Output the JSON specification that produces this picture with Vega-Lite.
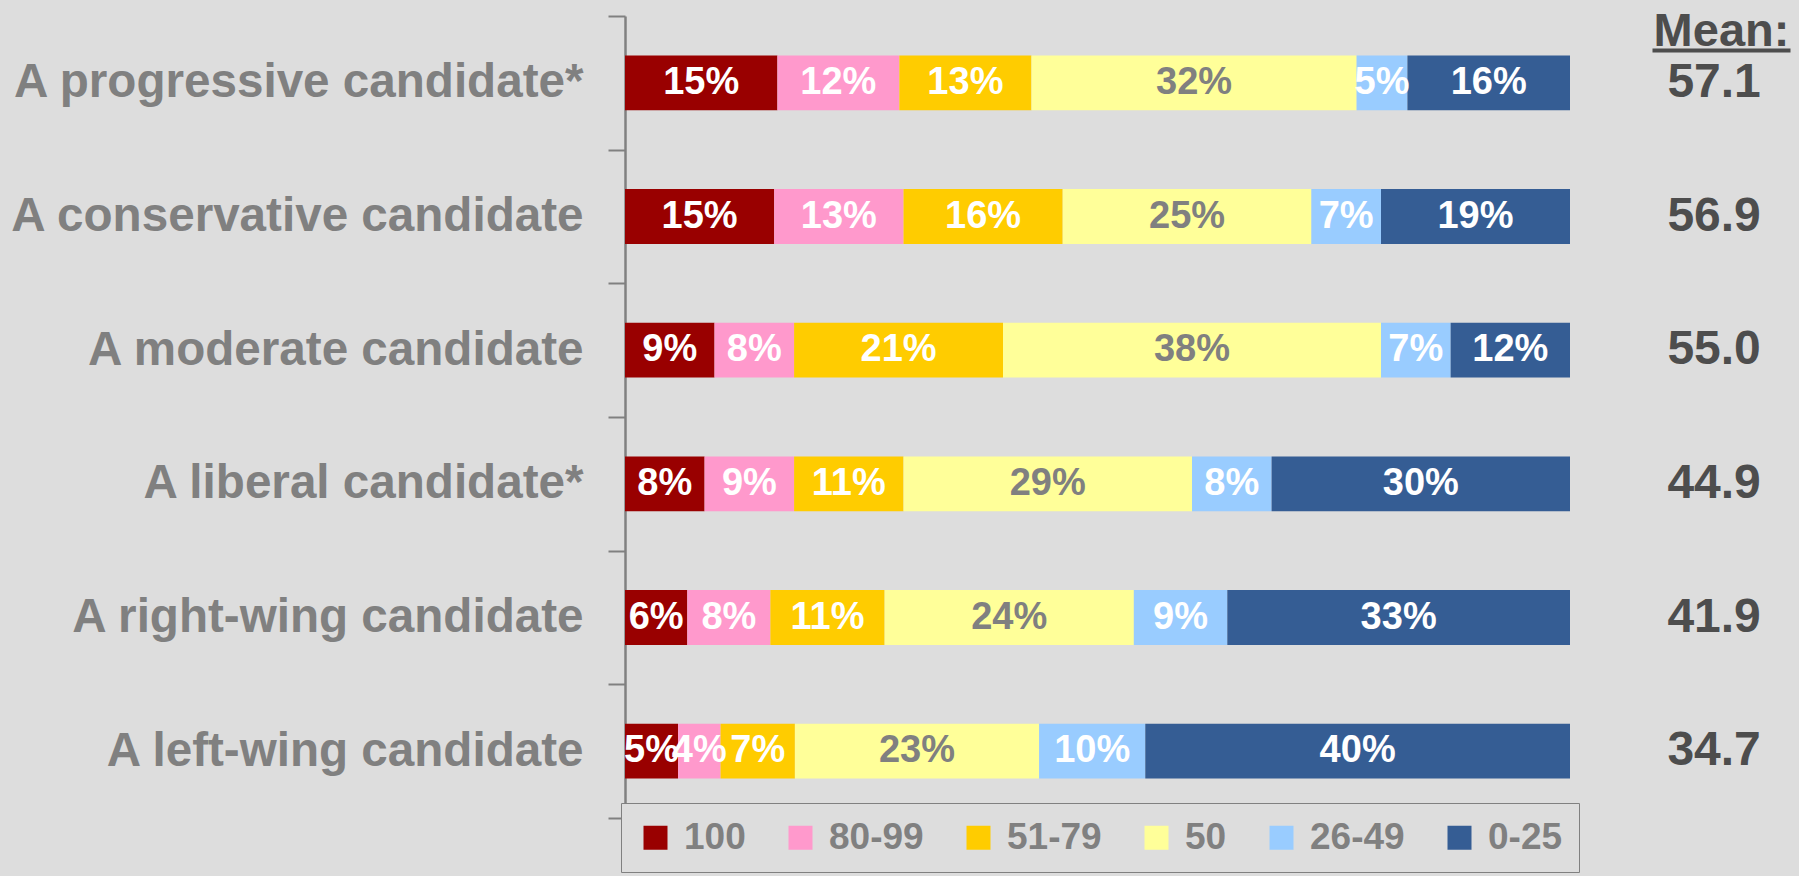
{
  "$schema": "https://vega.github.io/schema/vega-lite/v6.json",
  "background": "#DDDDDD",
  "autosize": {"type": "none"},
  "padding": {"left": 625, "top": 16, "right": 1174, "bottom": 860},
  "config": {"view": {"stroke": null}, "font": "Liberation Sans"},
  "datasets": {
    "ratings": [
      {"candidate": "A progressive candidate*", "range": "100", "k": 1, "share": 0.15},
      {"candidate": "A progressive candidate*", "range": "80-99", "k": 2, "share": 0.12},
      {"candidate": "A progressive candidate*", "range": "51-79", "k": 3, "share": 0.13},
      {"candidate": "A progressive candidate*", "range": "50", "k": 4, "share": 0.32},
      {"candidate": "A progressive candidate*", "range": "26-49", "k": 5, "share": 0.05},
      {"candidate": "A progressive candidate*", "range": "0-25", "k": 6, "share": 0.16},
      {"candidate": "A conservative candidate", "range": "100", "k": 1, "share": 0.15},
      {"candidate": "A conservative candidate", "range": "80-99", "k": 2, "share": 0.13},
      {"candidate": "A conservative candidate", "range": "51-79", "k": 3, "share": 0.16},
      {"candidate": "A conservative candidate", "range": "50", "k": 4, "share": 0.25},
      {"candidate": "A conservative candidate", "range": "26-49", "k": 5, "share": 0.07},
      {"candidate": "A conservative candidate", "range": "0-25", "k": 6, "share": 0.19},
      {"candidate": "A moderate candidate", "range": "100", "k": 1, "share": 0.09},
      {"candidate": "A moderate candidate", "range": "80-99", "k": 2, "share": 0.08},
      {"candidate": "A moderate candidate", "range": "51-79", "k": 3, "share": 0.21},
      {"candidate": "A moderate candidate", "range": "50", "k": 4, "share": 0.38},
      {"candidate": "A moderate candidate", "range": "26-49", "k": 5, "share": 0.07},
      {"candidate": "A moderate candidate", "range": "0-25", "k": 6, "share": 0.12},
      {"candidate": "A liberal candidate*", "range": "100", "k": 1, "share": 0.08},
      {"candidate": "A liberal candidate*", "range": "80-99", "k": 2, "share": 0.09},
      {"candidate": "A liberal candidate*", "range": "51-79", "k": 3, "share": 0.11},
      {"candidate": "A liberal candidate*", "range": "50", "k": 4, "share": 0.29},
      {"candidate": "A liberal candidate*", "range": "26-49", "k": 5, "share": 0.08},
      {"candidate": "A liberal candidate*", "range": "0-25", "k": 6, "share": 0.30},
      {"candidate": "A right-wing candidate", "range": "100", "k": 1, "share": 0.06},
      {"candidate": "A right-wing candidate", "range": "80-99", "k": 2, "share": 0.08},
      {"candidate": "A right-wing candidate", "range": "51-79", "k": 3, "share": 0.11},
      {"candidate": "A right-wing candidate", "range": "50", "k": 4, "share": 0.24},
      {"candidate": "A right-wing candidate", "range": "26-49", "k": 5, "share": 0.09},
      {"candidate": "A right-wing candidate", "range": "0-25", "k": 6, "share": 0.33},
      {"candidate": "A left-wing candidate", "range": "100", "k": 1, "share": 0.05},
      {"candidate": "A left-wing candidate", "range": "80-99", "k": 2, "share": 0.04},
      {"candidate": "A left-wing candidate", "range": "51-79", "k": 3, "share": 0.07},
      {"candidate": "A left-wing candidate", "range": "50", "k": 4, "share": 0.23},
      {"candidate": "A left-wing candidate", "range": "26-49", "k": 5, "share": 0.10},
      {"candidate": "A left-wing candidate", "range": "0-25", "k": 6, "share": 0.40}
    ],
    "means": [
      {"candidate": "A progressive candidate*", "mean": 57.1},
      {"candidate": "A conservative candidate", "mean": 56.9},
      {"candidate": "A moderate candidate", "mean": 55.0},
      {"candidate": "A liberal candidate*", "mean": 44.9},
      {"candidate": "A right-wing candidate", "mean": 41.9},
      {"candidate": "A left-wing candidate", "mean": 34.7}
    ]
  },
  "bounds": "flush",
  "spacing": 82,
  "hconcat": [
    {
      "width": 945,
      "height": 802,
      "data": {"name": "ratings"},
      "encoding": {
        "y": {
          "field": "candidate",
          "type": "nominal",
          "sort": ["A progressive candidate*", "A conservative candidate", "A moderate candidate", "A liberal candidate*", "A right-wing candidate", "A left-wing candidate"],
          "scale": {"paddingInner": 0, "paddingOuter": 0},
          "axis": {
            "title": null,
            "tickBand": "extent",
            "domainColor": "#808080",
            "domainWidth": 2.5,
            "tickColor": "#808080",
            "tickWidth": 2,
            "tickSize": 17,
            "labelPadding": 25,
            "labelFontSize": 47.6,
            "labelFontWeight": "bold",
            "labelColor": "#808080",
            "labelFont": "Liberation Sans",
            "labelLimit": 800,
            "grid": false
          }
        },
        "x": {"field": "share", "type": "quantitative", "stack": "normalize", "scale": {"domain": [0, 1]}, "axis": null},
        "order": {"field": "k", "type": "quantitative"}
      },
      "layer": [
        {
          "mark": {"type": "bar", "height": {"band": 0.41}},
          "encoding": {
            "color": {
              "field": "range",
              "type": "nominal",
              "scale": {
                "domain": ["100", "80-99", "51-79", "50", "26-49", "0-25"],
                "range": ["#990000", "#FF99CC", "#FFCC00", "#FFFF99", "#99CCFF", "#355D94"]
              },
              "legend": {
                "orient": "none",
                "legendX": -4,
                "legendY": 787,
                "direction": "horizontal",
                "title": null,
                "symbolType": "square",
                "symbolSize": 576,
                "symbolStrokeWidth": 0,
                "labelFontSize": 37,
                "labelFont": "Liberation Sans",
                "labelFontWeight": "bold",
                "labelColor": "#808080",
                "labelOffset": 10,
                "columnPadding": 36,
                "strokeColor": "#808080",
                "fillColor": "#DDDDDD",
                "padding": 16
              }
            }
          }
        },
        {
          "mark": {"type": "text", "fontSize": 38, "fontWeight": "bold", "font": "Liberation Sans"},
          "encoding": {
            "x": {"field": "share", "type": "quantitative", "stack": "normalize", "bandPosition": 0.5},
            "text": {"field": "share", "type": "quantitative", "format": ".0%"},
            "color": {"condition": {"test": "datum.range === '50'", "value": "#808080"}, "value": "#FFFFFF"}
          }
        }
      ]
    },
    {
      "width": 138,
      "height": 802,
      "data": {"name": "means"},
      "mark": {"type": "text", "fontSize": 48, "fontWeight": "bold", "color": "#4D4D4D", "font": "Liberation Sans"},
      "encoding": {
        "y": {
          "field": "candidate",
          "type": "nominal",
          "sort": ["A progressive candidate*", "A conservative candidate", "A moderate candidate", "A liberal candidate*", "A right-wing candidate", "A left-wing candidate"],
          "scale": {"paddingInner": 0, "paddingOuter": 0},
          "axis": null
        },
        "x": {
          "datum": 0.45,
          "type": "quantitative",
          "scale": {"domain": [0, 1]},
          "axis": {
            "orient": "top",
            "title": "Mean:",
            "offset": -34,
            "domainColor": "#4D4D4D",
            "domainWidth": 4,
            "ticks": false,
            "labels": false,
            "grid": false,
            "minExtent": 0,
            "titleFontSize": 47,
            "titleFont": "Liberation Sans",
            "titleFontWeight": "bold",
            "titleColor": "#4D4D4D",
            "titleBaseline": "alphabetic",
            "titlePadding": 5
          }
        },
        "text": {"field": "mean", "type": "quantitative", "format": ".1f"}
      }
    }
  ]
}
